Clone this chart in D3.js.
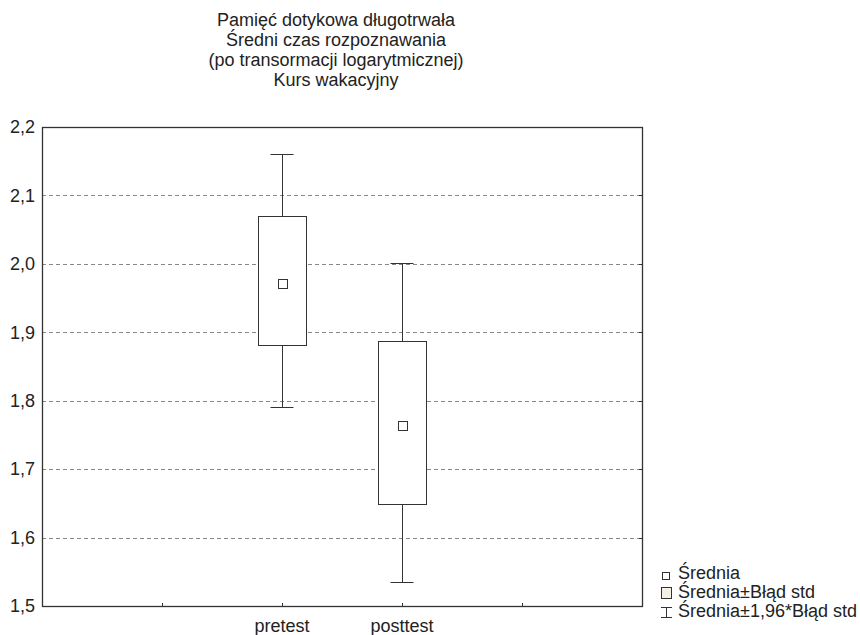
<!DOCTYPE html>
<html>
<head>
<meta charset="utf-8">
<script src="https://cdn.jsdelivr.net/npm/d3@7"></script>
<style>
  html, body { margin: 0; padding: 0; background: #fff; }
  svg { display: block; font-family: "Liberation Sans", Arial, sans-serif; }
</style>
</head>
<body>
<svg id="chart" width="860" height="635"></svg>
<script>
// Category slots along the x axis (outer slots stay empty)
const slots = ["", "pretest", "posttest", ""];
const categories = ["pretest", "posttest"];
// Mean, mean ± standard error, mean ± 1.96 * standard error
const means = [1.972, 1.764];
const seLow = [1.881, 1.649];
const seHigh = [2.070, 1.887];
const ciLow = [1.791, 1.535];
const ciHigh = [2.160, 2.001];
const yTicks = [1.5, 1.6, 1.7, 1.8, 1.9, 2.0, 2.1, 2.2];
const titleLines = [
  "Pamięć dotykowa długotrwała",
  "Średni czas rozpoznawania",
  "(po transormacji logarytmicznej)",
  "Kurs wakacyjny"
];
const legendItems = ["Średnia", "Średnia±Błąd std", "Średnia±1,96*Błąd std"];

const svg = d3.select("#chart");
const plot = { left: 42, right: 642, top: 127, bottom: 606 };
const ink = "#333";
const fs = 18;

const y = d3.scaleLinear().domain([1.5, 2.2]).range([plot.bottom, plot.top]);
const x = d3.scaleLinear().domain([0, slots.length + 1]).range([plot.left, plot.right]);
const xPos = name => x(slots.indexOf(name) + 1);

// Title
svg.append("g").selectAll("text").data(titleLines).join("text")
  .attr("x", 336)
  .attr("y", (d, i) => 25.5 + i * 20.3)
  .attr("text-anchor", "middle")
  .attr("font-size", fs)
  .attr("fill", "#222")
  .text(d => d);

// Dashed gridlines
svg.append("g").selectAll("line").data(yTicks.filter(t => t > 1.5 && t < 2.2)).join("line")
  .attr("x1", plot.left).attr("x2", plot.right)
  .attr("y1", d => Math.round(y(d)) + 0.5).attr("y2", d => Math.round(y(d)) + 0.5)
  .attr("stroke", "#888").attr("stroke-dasharray", "4,3");

// Y axis labels
const yAxis = d3.axisLeft(y).tickValues(yTicks).tickSize(0).tickPadding(7)
  .tickFormat(d => d3.format(".1f")(d).replace(".", ","));
svg.append("g").attr("transform", `translate(${plot.left},0)`).call(yAxis)
  .call(g => g.select(".domain").remove())
  .call(g => g.selectAll("text").attr("font-size", fs).attr("fill", "#222")
    .attr("font-family", "Liberation Sans, Arial, sans-serif"));
// Inward ticks on the right axis
svg.append("g").selectAll("line").data(yTicks).join("line")
  .attr("x1", plot.right - 3).attr("x2", plot.right)
  .attr("y1", d => Math.round(y(d)) + 0.5).attr("y2", d => Math.round(y(d)) + 0.5)
  .attr("stroke", ink);

// X axis: inward ticks and labels
const xTickSlots = d3.range(1, slots.length + 1);
svg.append("g").selectAll("line").data(xTickSlots).join("line")
  .attr("x1", d => Math.round(x(d)) + 0.5).attr("x2", d => Math.round(x(d)) + 0.5)
  .attr("y1", plot.bottom - 3).attr("y2", plot.bottom)
  .attr("stroke", ink);
svg.append("g").selectAll("text").data(categories).join("text")
  .attr("x", d => xPos(d))
  .attr("y", 632)
  .attr("text-anchor", "middle")
  .attr("font-size", fs)
  .attr("fill", "#222")
  .text(d => d);

// Plot frame
svg.append("rect")
  .attr("x", plot.left + 0.5).attr("y", plot.top + 0.5)
  .attr("width", plot.right - plot.left).attr("height", plot.bottom - plot.top)
  .attr("fill", "none").attr("stroke", ink).attr("stroke-width", 1.3);

// Box plots
const boxW = 48, capW = 23, markS = 9;
const groups = svg.append("g").selectAll("g").data(categories).join("g");
groups.append("line")
  .attr("x1", d => Math.round(xPos(d)) + 0.5).attr("x2", d => Math.round(xPos(d)) + 0.5)
  .attr("y1", (d, i) => y(ciHigh[i])).attr("y2", (d, i) => y(ciLow[i]))
  .attr("stroke", ink);
[ciHigh, ciLow].forEach(arr => {
  groups.append("line")
    .attr("x1", d => Math.round(xPos(d)) - capW / 2).attr("x2", d => Math.round(xPos(d)) + capW / 2)
    .attr("y1", (d, i) => Math.round(y(arr[i])) + 0.5).attr("y2", (d, i) => Math.round(y(arr[i])) + 0.5)
    .attr("stroke", ink);
});
groups.append("rect")
  .attr("x", d => Math.round(xPos(d) - boxW / 2) + 0.5)
  .attr("y", (d, i) => Math.round(y(seHigh[i])) + 0.5)
  .attr("width", boxW)
  .attr("height", (d, i) => Math.round(y(seLow[i])) - Math.round(y(seHigh[i])))
  .attr("fill", "#fff").attr("stroke", ink);
groups.append("rect")
  .attr("x", d => Math.round(xPos(d) - markS / 2) + 0.5)
  .attr("y", (d, i) => Math.round(y(means[i]) - markS / 2) + 0.5)
  .attr("width", markS).attr("height", markS)
  .attr("fill", "#fff").attr("stroke", ink);

// Legend
const lg = svg.append("g");
const lx = 661, ly = [576, 593, 612];
lg.append("rect").attr("x", lx + 1.5).attr("y", ly[0] - 3.5).attr("width", 7).attr("height", 7)
  .attr("fill", "#fff").attr("stroke", ink);
lg.append("rect").attr("x", lx + 0.5).attr("y", ly[1] - 5.5).attr("width", 10).attr("height", 11)
  .attr("fill", "#f4f0e6").attr("stroke", ink);
lg.append("line").attr("x1", lx + 5.5).attr("x2", lx + 5.5).attr("y1", ly[2] - 5).attr("y2", ly[2] + 5).attr("stroke", ink);
lg.append("line").attr("x1", lx).attr("x2", lx + 11).attr("y1", ly[2] - 4.5).attr("y2", ly[2] - 4.5).attr("stroke", ink);
lg.append("line").attr("x1", lx).attr("x2", lx + 11).attr("y1", ly[2] + 5.5).attr("y2", ly[2] + 5.5).attr("stroke", ink);
lg.selectAll("text").data(legendItems).join("text")
  .attr("x", 678).attr("y", (d, i) => [579, 598, 617][i])
  .attr("font-size", fs).attr("fill", "#222")
  .text(d => d);
</script>
</body>
</html>
